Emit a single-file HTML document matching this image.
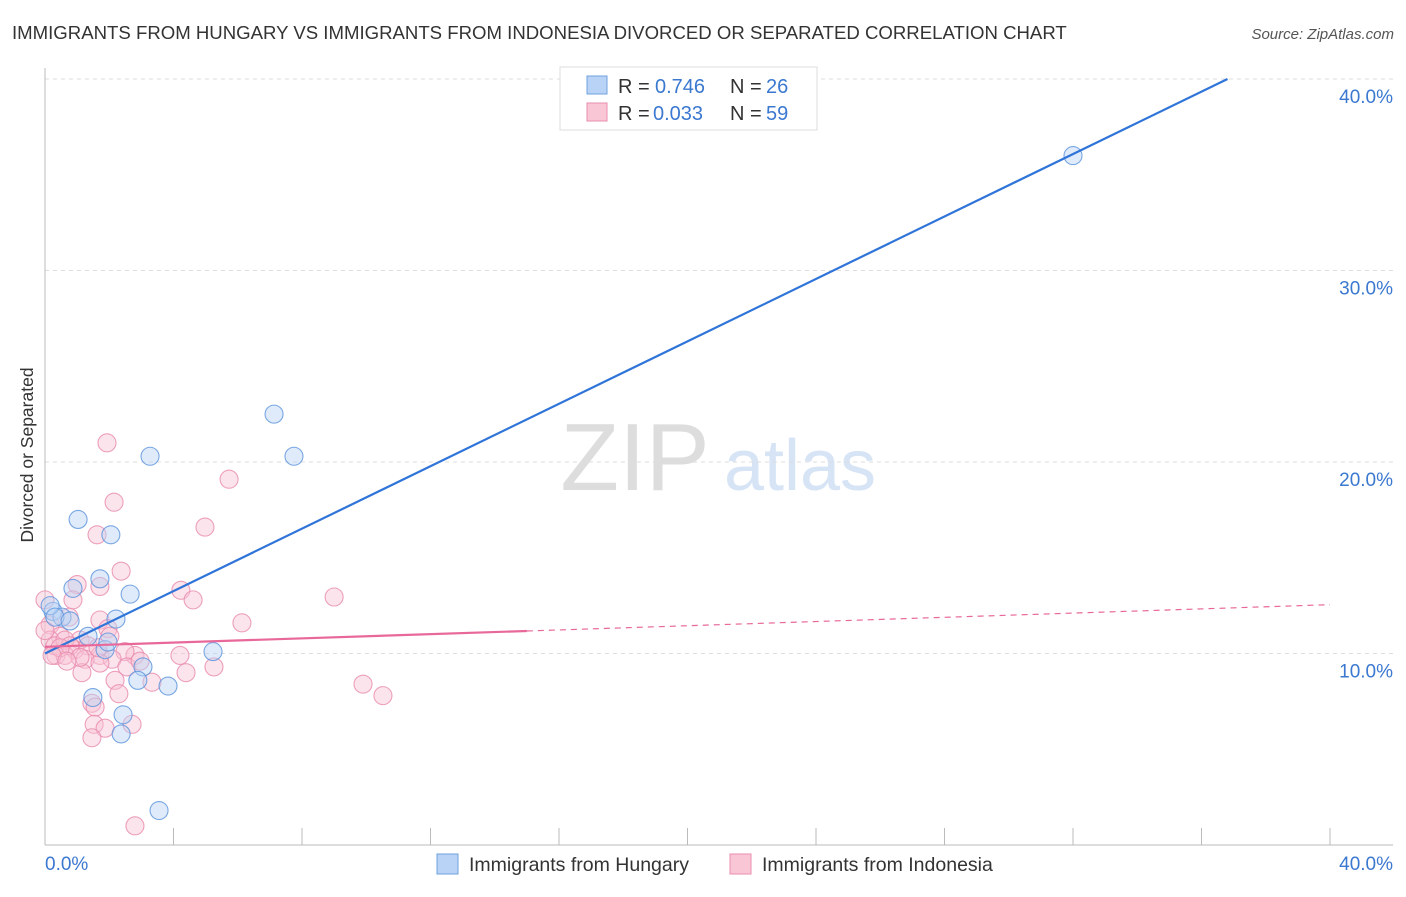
<!DOCTYPE html>
<html><head><meta charset="utf-8"><style>
body{margin:0;background:#fff;font-family:"Liberation Sans",sans-serif}
svg text{font-family:"Liberation Sans",sans-serif}
</style></head><body>
<svg width="1406" height="892">
<text x="12" y="39" font-size="18.6" fill="#333">IMMIGRANTS FROM HUNGARY VS IMMIGRANTS FROM INDONESIA DIVORCED OR SEPARATED CORRELATION CHART</text>
<text x="1394" y="39" font-size="15" fill="#555" font-style="italic" text-anchor="end">Source: ZipAtlas.com</text>
<text x="635" y="490" font-size="96" fill="#ddd" font-family="Liberation Serif" text-anchor="middle">ZIP</text>
<text x="800" y="490" font-size="72" fill="#d6e4f5" text-anchor="middle">atlas</text>
<g id="grid"></g><g id="axes"></g><g id="marks"></g>
<text transform="translate(33,455) rotate(-90)" font-size="17.5" fill="#333" text-anchor="middle">Divorced or Separated</text>
<text x="45" y="870" font-size="19" fill="#3b78d0">0.0%</text>
<text x="1393" y="870" font-size="19" fill="#3b78d0" text-anchor="end">40.0%</text>
<g>
<rect x="560" y="67" width="257" height="63" fill="#fff" stroke="#ddd"/>
<rect x="587" y="76" width="20" height="18" fill="#b8d3f5" stroke="#6fa0e0"/>
<rect x="587" y="103" width="20" height="18" fill="#f9c6d6" stroke="#ea8db0"/>
<text y="93" font-size="20" fill="#333"><tspan x="618">R =</tspan><tspan x="655" fill="#3b78d0">0.746</tspan><tspan x="730">N =</tspan><tspan x="766" fill="#3b78d0">26</tspan></text>
<text y="120" font-size="20" fill="#333"><tspan x="618">R =</tspan><tspan x="653" fill="#3b78d0">0.033</tspan><tspan x="730">N =</tspan><tspan x="766" fill="#3b78d0">59</tspan></text>
</g>
<g>
<rect x="437" y="854" width="21" height="20" fill="#b8d3f5" stroke="#6fa0e0"/>
<text x="469" y="871" font-size="19.5" fill="#333">Immigrants from Hungary</text>
<rect x="730" y="854" width="21" height="20" fill="#f9c6d6" stroke="#ea8db0"/>
<text x="762" y="871" font-size="19.5" fill="#333">Immigrants from Indonesia</text>
</g>
</svg>
<script>
const yTicks=[10,20,30,40];
const xTicks=[0,4,8,12,16,20,24,28,32,36,40];
const hungaryX=[32.0,7.13,7.75,3.27,1.03,2.05,1.71,0.87,2.65,2.21,0.25,0.53,1.34,1.87,5.23,3.05,2.89,3.83,1.49,2.43,2.37,3.55,0.16,0.31,0.78,1.96];
const hungaryY=[36.0,22.5,20.3,20.3,17.0,16.2,13.9,13.4,13.1,11.8,12.2,11.9,10.9,10.2,10.1,9.3,8.6,8.3,7.7,6.8,5.8,1.8,12.5,11.9,11.7,10.6];
const indonesiaX=[1.93,5.73,2.15,4.98,1.62,2.37,1.71,1.00,4.23,4.61,9.0,0.87,0.75,1.71,6.13,1.96,0,0.16,0.47,1.09,0.93,1.34,0.34,0.62,1.71,2.80,4.20,2.49,2.09,1.25,1.71,2.55,5.26,4.39,1.15,2.18,3.33,9.90,10.52,2.30,1.46,1.56,1.53,2.71,1.87,1.46,2.80,0.16,0.31,0.62,0.78,0.47,1.09,2.02,1.65,2.96,0,0.22,0.68];
const indonesiaY=[21.0,19.1,17.9,16.6,16.2,14.3,13.5,13.6,13.3,12.8,12.95,12.8,11.9,11.75,11.6,11.3,12.8,11.5,10.9,10.7,10.2,10.4,9.9,9.9,9.9,9.9,9.9,10.1,9.7,9.7,9.5,9.3,9.3,9.0,9.0,8.6,8.5,8.4,7.8,7.9,7.4,7.2,6.3,6.3,6.1,5.6,1.0,10.7,10.4,10.7,10.4,10.3,9.8,10.9,10.3,9.6,11.2,9.9,9.6];
const hungaryFit=[10.0,0.815];
const indonesiaFit=[10.35,0.055];
const sx=v=>45+v*32.125, sy=v=>845-v*19.15;
const NS='http://www.w3.org/2000/svg';
function mk(t,a,p){const e=document.createElementNS(NS,t);for(const k in a)e.setAttribute(k,a[k]);p.appendChild(e);return e;}
const grid=document.getElementById('grid'),axes=document.getElementById('axes'),marks=document.getElementById('marks');
yTicks.forEach(t=>{
const l=mk('line',{x1:45,x2:1393,y1:sy(t),y2:sy(t),stroke:'#ddd','stroke-dasharray':'4,4'},grid);


const tx=mk('text',{x:1393,y:sy(t)+24,'font-size':19,fill:'#3b78d0','text-anchor':'end'},grid);
tx.textContent=t.toFixed(1)+'%';


});
const ya=mk('line',{x1:45,x2:45,y1:68,y2:845,stroke:'#bbb'},axes);


const xa=mk('line',{x1:45,x2:1393,y1:845,y2:845,stroke:'#bbb'},axes);


xTicks.forEach(t=>{
const l=mk('line',{x1:sx(t),x2:sx(t),y1:828,y2:845,stroke:'#bbb'},axes);


});
function pts(X,Y,fill,stroke,name){X.forEach((x,i)=>{
const c=mk('circle',{cx:sx(x),cy:sy(Y[i]),r:9,fill:fill,'fill-opacity':0.45,stroke:stroke,'stroke-width':1.1,'stroke-opacity':0.8},marks);


});}
pts(indonesiaX,indonesiaY,'#f8c3d4','#e88aac','point-indonesia');
pts(hungaryX,hungaryY,'#b8d3f5','#5a92dc','point-hungary');
const bx2=(40-hungaryFit[0])/hungaryFit[1];
const bl=mk('line',{x1:sx(0),y1:sy(hungaryFit[0]),x2:sx(bx2),y2:sy(40),stroke:'#2f74d8','stroke-width':2.2},marks);


const p1=mk('line',{x1:sx(0),y1:sy(indonesiaFit[0]),x2:sx(15),y2:sy(indonesiaFit[0]+15*indonesiaFit[1]),stroke:'#e8689a','stroke-width':2.2},marks);


const p2=mk('line',{x1:sx(15),y1:sy(indonesiaFit[0]+15*indonesiaFit[1]),x2:sx(40),y2:sy(indonesiaFit[0]+40*indonesiaFit[1]),stroke:'#e8689a','stroke-width':1.2,'stroke-dasharray':'6,5'},marks);


</script>
</body></html>
